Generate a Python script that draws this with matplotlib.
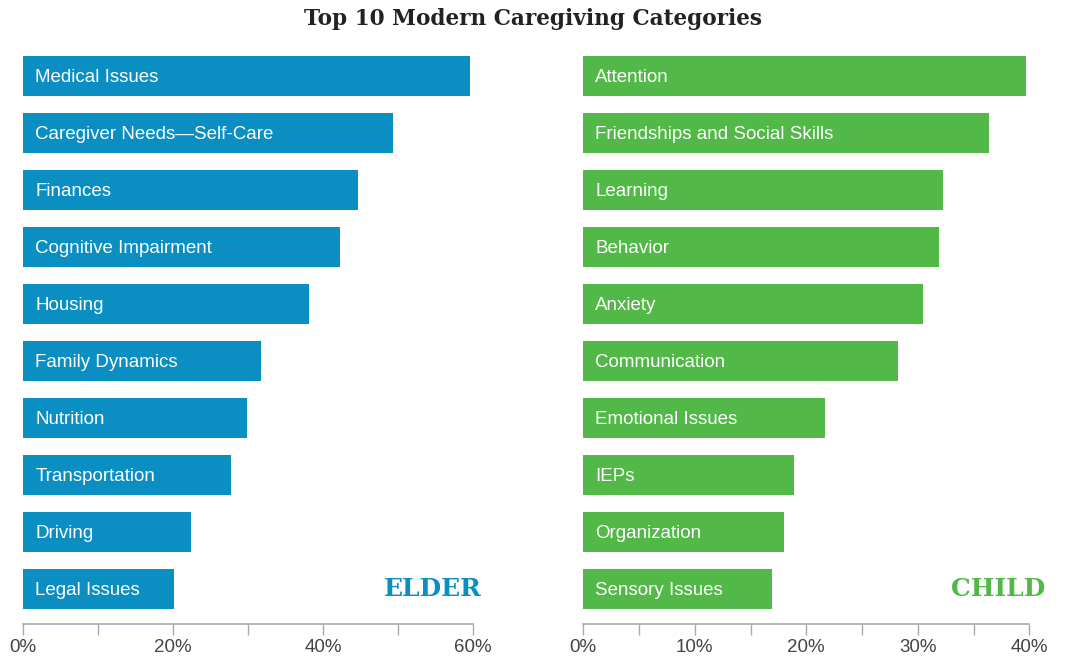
import matplotlib
matplotlib.use("Agg")
import matplotlib.pyplot as plt
from matplotlib.ticker import MultipleLocator, FuncFormatter

elder_categories = ["Medical Issues", "Caregiver Needs\u2014Self-Care", "Finances",
                    "Cognitive Impairment", "Housing", "Family Dynamics", "Nutrition",
                    "Transportation", "Driving", "Legal Issues"]
elder_values = [59.6, 49.3, 44.7, 42.3, 38.1, 31.7, 29.9, 27.7, 22.4, 20.1]

child_categories = ["Attention", "Friendships and Social Skills", "Learning", "Behavior",
                    "Anxiety", "Communication", "Emotional Issues", "IEPs",
                    "Organization", "Sensory Issues"]
child_values = [39.7, 36.4, 32.3, 31.9, 30.5, 28.2, 21.7, 18.9, 18.0, 16.9]

BLUE = "#0b8ec2"
GREEN = "#52b848"
SANS = ["Liberation Sans", "DejaVu Sans"]
SLAB = ["DejaVu Serif"]


def draw_panel(ax, cats, vals, color, xmax, major, minor, tag, tag_x):
    pos = list(range(len(cats)))
    ax.barh(pos, vals, height=0.71, color=color, zorder=2)
    for p, c in zip(pos, cats):
        ax.text(xmax * 0.027, p + 0.02, c, color="white", va="center", ha="left",
                fontsize=13.5, family=SANS)
    ax.set_xlim(0, xmax)
    ax.set_ylim(len(cats) - 1 + 0.614, -0.454)
    ax.xaxis.set_major_locator(MultipleLocator(major))
    ax.xaxis.set_minor_locator(MultipleLocator(minor))
    ax.xaxis.set_major_formatter(FuncFormatter(lambda v, _: f"{v:.0f}%"))
    ax.tick_params(axis="x", which="both", direction="out", length=8, width=1,
                   color="#aaaaaa", labelsize=13.5, labelcolor="#444444", pad=3)
    for lab in ax.get_xticklabels():
        lab.set_family(SANS)
    ax.set_yticks([])
    for s in ("left", "top", "right"):
        ax.spines[s].set_visible(False)
    ax.spines["bottom"].set_color("#aaaaaa")
    ax.spines["bottom"].set_linewidth(1.2)
    ax.text(tag_x, len(cats) - 1, tag, color=color, ha="right", va="center",
            fontsize=18, fontweight="bold", family=SLAB, clip_on=False)


fig = plt.figure(figsize=(10.65, 6.58), dpi=100)
ax1 = fig.add_axes([23 / 1065, 0.0517, 450 / 1065, 0.8723])
ax2 = fig.add_axes([583.3 / 1065, 0.0517, 446 / 1065, 0.8723])

draw_panel(ax1, elder_categories, elder_values, BLUE, 60, 20, 10, "ELDER", 61.2)
draw_panel(ax2, child_categories, child_values, GREEN, 40, 10, 5, "CHILD", 41.4)

fig.text(0.5, 0.971, "Top 10 Modern Caregiving Categories", ha="center", va="center",
         fontsize=15.6, fontweight="bold", family=SLAB, color="#222222")

fig.savefig("out.png", dpi=100)
